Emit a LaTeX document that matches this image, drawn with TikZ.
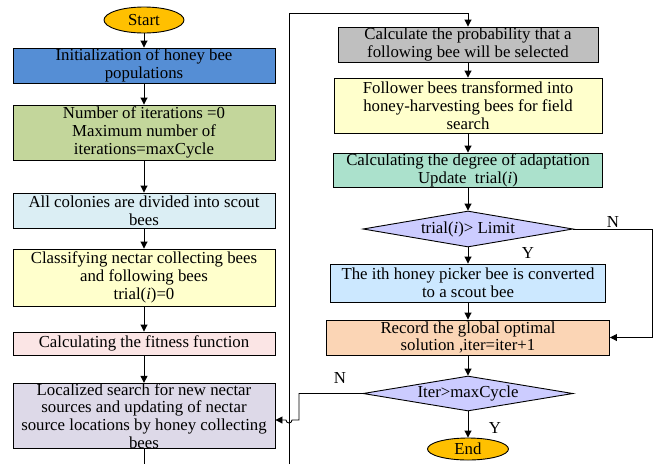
\documentclass[tikz,border=0pt]{standalone}
\usepackage{fontspec}
\setmainfont{Liberation Serif}
\usepackage{tikz}
\usetikzlibrary{arrows.meta,shapes.geometric}
\definecolor{termorange}{HTML}{FFC000}
\definecolor{initblue}{HTML}{558ED5}
\definecolor{itergreen}{HTML}{C3D69B}
\definecolor{colonyblue}{HTML}{DBEEF4}
\definecolor{paleyellow}{HTML}{FFFFCC}
\definecolor{fitpink}{HTML}{FBE5E5}
\definecolor{searchgray}{HTML}{DDD9E8}
\definecolor{probgray}{HTML}{BFBFBF}
\definecolor{adaptmint}{HTML}{ABE1CC}
\definecolor{decisionblue}{HTML}{CCCCFF}
\definecolor{scoutblue}{HTML}{CCE8FF}
\definecolor{recordpeach}{HTML}{FBD5B5}
\tikzset{
  stepbox/.style={draw=black, line width=0.9pt, align=center, inner sep=0pt,
      font=\fontsize{16.8}{17.8}\selectfont},
  term/.style={ellipse, draw=black, line width=0.9pt, fill=termorange, inner sep=0pt,
      font=\fontsize{16.8}{17.8}\selectfont},
  decide/.style={diamond, draw=black, line width=0.9pt, fill=decisionblue, inner sep=0pt,
      aspect=5.8, font=\fontsize{16.8}{17.8}\selectfont},
  arr/.style={draw=black, line width=0.9pt, -{Triangle[length=7pt,width=7pt]}},
  wire/.style={draw=black, line width=0.9pt},
  yn/.style={font=\fontsize{16.8}{17.8}\selectfont, inner sep=0pt},
}

\begin{document}
\begin{tikzpicture}[x=1pt, y=-1pt]
  \useasboundingbox (0,0) rectangle (659,464);

  % left column
  \node[term, minimum width=80pt, minimum height=26pt] (start) at (144,20) {Start};
  \node[stepbox, fill=initblue, minimum width=262pt, minimum height=35pt] (init) at (144,65.5)
      {Initialization of honey bee\\populations};
  \node[stepbox, fill=itergreen, minimum width=262pt, minimum height=55pt] (numb) at (144,132.5)
      {Number of iterations =0\\Maximum number of\\iterations=maxCycle};
  \node[stepbox, fill=colonyblue, minimum width=262pt, minimum height=35pt] (divide) at (144,210.5)
      {All colonies are divided into scout\\bees};
  \node[stepbox, fill=paleyellow, minimum width=262pt, minimum height=57pt] (classify) at (144,277.5)
      {Classifying nectar collecting bees\\and following bees\\trial(\textit{i})=0};
  \node[stepbox, fill=fitpink, minimum width=262pt, minimum height=23pt] (fitness) at (144,343.5)
      {Calculating the fitness function};
  \node[stepbox, fill=searchgray, minimum width=262pt, minimum height=60pt] (local) at (144,416)
      {Localized search for new nectar\\sources and updating of nectar\\source locations by honey collecting\\bees};

  % right column
  \node[stepbox, fill=probgray, minimum width=260pt, minimum height=35pt] (prob) at (468,44.5)
      {Calculate the probability that a\\following bee will be selected};
  \node[stepbox, fill=paleyellow, minimum width=268pt, minimum height=55pt] (follow) at (468,105.5)
      {Follower bees transformed into\\honey-harvesting bees for field\\search};
  \node[stepbox, fill=adaptmint, minimum width=269pt, minimum height=34pt] (adapt) at (468,170)
      {Calculating the degree of adaptation\\Update\ \ trial(\textit{i})};
  \node[decide, minimum width=210pt, minimum height=36pt] (trial) at (468,229)
      {trial(\textit{i})> Limit};
  \node[stepbox, fill=scoutblue, minimum width=275pt, minimum height=38pt] (scout) at (468,283)
      {The ith honey picker bee is converted\\to a scout bee};
  \node[stepbox, fill=recordpeach, minimum width=283pt, minimum height=35pt] (record) at (468,337.5)
      {Record the global optimal\\solution ,iter=iter+1};
  \node[decide, minimum width=210pt, minimum height=35pt] (iter) at (468,393.5)
      {Iter>maxCycle};
  \node[term, minimum width=81pt, minimum height=22pt] (end) at (468,449) {End};

  \node[yn] (ntrial) at (613,222) {N};
  \node[yn] (ytrial) at (528,253) {Y};
  \node[yn] (niter) at (340,378) {N};
  \node[yn] (yiter) at (495,428) {Y};

  % connectors
  \draw[arr] (start) -- (init);
  \draw[arr] (init) -- (numb);
  \draw[arr] (numb) -- (divide);
  \draw[arr] (divide) -- (classify);
  \draw[arr] (classify) -- (fitness);
  \draw[arr] (fitness) -- (local);
  \coordinate (lowout) at (144,464);
  \draw[wire] (local) -- (lowout);
  \coordinate (loopbot) at (289,464);
  \coordinate (looptop) at (289,13);
  \draw[arr] (loopbot) -- (looptop) -| (prob);
  \draw[arr] (prob) -- (follow);
  \draw[arr] (follow) -- (adapt);
  \draw[arr] (adapt) -- (trial);
  \draw[arr] (trial) -- (scout);
  \draw[arr] (scout) -- (record);
  \draw[arr] (trial.east) -- ++(79,0) |- (record.east);
  \draw[arr] (record) -- (iter);
  \draw[arr] (iter) -- (end);
  \coordinate (njog) at (299,420);
  \draw[arr] (iter.west) -| (njog) -- (292,420) arc[start angle=0, end angle=180, radius=3]
      -- (local.east |- njog);

\end{tikzpicture}
\end{document}
